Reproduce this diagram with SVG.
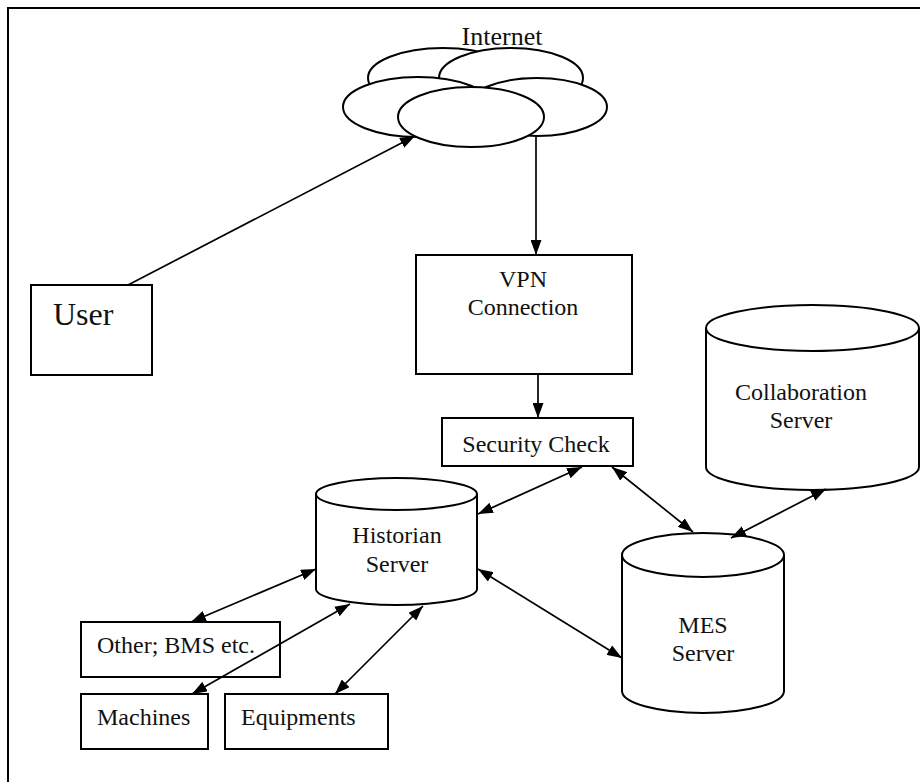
<svg xmlns="http://www.w3.org/2000/svg" width="920" height="782" viewBox="0 0 920 782">
  <style>
    .shape { fill: #fff; stroke: #000; stroke-width: 2; }
    .edge { fill: none; stroke: #000; stroke-width: 1.7; }
    text { font-family: "Liberation Serif", "Times New Roman", serif; fill: #111; font-size: 24px; }
    .c { text-anchor: middle; }
  </style>
  <defs>
    <marker id="arrow" viewBox="0 0 15 11" refX="15" refY="5.5" markerWidth="15" markerHeight="11" markerUnits="userSpaceOnUse" orient="auto-start-reverse">
      <path d="M0,0 L15,5.5 L0,11 z" fill="#000"/>
    </marker>
  </defs>
  <rect x="0" y="0" width="920" height="782" fill="#fff"/>

  <!-- page frame (top and left edges visible) -->
  <rect x="8" y="8" width="940" height="820" fill="none" stroke="#000" stroke-width="2"/>

  <g id="internet">
    <ellipse class="shape" cx="443" cy="78" rx="75" ry="30"/>
    <ellipse class="shape" cx="511" cy="78" rx="72" ry="30"/>
    <ellipse class="shape" cx="418" cy="107" rx="75" ry="30"/>
    <ellipse class="shape" cx="537" cy="107" rx="70" ry="29"/>
    <ellipse class="shape" cx="471" cy="117" rx="73" ry="30"/>
    <text class="c" x="502" y="45" style="font-size:26px">Internet</text>
  </g>

  <g id="user">
    <rect class="shape" x="31" y="285" width="121" height="90"/>
    <text x="53" y="325" style="font-size:32px">User</text>
  </g>

  <g id="vpn">
    <rect class="shape" x="416" y="255" width="216" height="119"/>
    <text class="c" x="523" y="287">VPN</text>
    <text class="c" x="523" y="315">Connection</text>
  </g>

  <g id="security">
    <rect class="shape" x="442" y="418" width="191" height="48"/>
    <text class="c" x="536" y="452">Security Check</text>
  </g>

  <g id="historian">
    <path class="shape" d="M316,494 L316,589 A80.5,16 0 0 0 477,589 L477,494"/>
    <ellipse class="shape" cx="396.5" cy="494" rx="80.5" ry="16"/>
    <text class="c" x="397" y="543">Historian</text>
    <text class="c" x="397" y="572">Server</text>
  </g>

  <g id="collaboration">
    <path class="shape" d="M706,328 L706,467 A106.5,23 0 0 0 919,467 L919,328"/>
    <ellipse class="shape" cx="812.5" cy="328" rx="106.5" ry="23"/>
    <text class="c" x="801" y="400">Collaboration</text>
    <text class="c" x="801" y="428">Server</text>
  </g>

  <g id="mes">
    <path class="shape" d="M622,555 L622,691 A81,22 0 0 0 784,691 L784,555"/>
    <ellipse class="shape" cx="703" cy="555" rx="81" ry="22"/>
    <text class="c" x="703" y="633">MES</text>
    <text class="c" x="703" y="661">Server</text>
  </g>

  <g id="other">
    <rect class="shape" x="81" y="622" width="199" height="55"/>
    <text x="97" y="653">Other; BMS etc.</text>
  </g>

  <g id="machines">
    <rect class="shape" x="81" y="694" width="127" height="55"/>
    <text x="97" y="725">Machines</text>
  </g>

  <g id="equipments">
    <rect class="shape" x="225" y="694" width="163" height="55"/>
    <text x="241" y="725">Equipments</text>
  </g>

  <g id="connectors">
    <line class="edge" x1="128" y1="285" x2="415" y2="136" marker-end="url(#arrow)"/>
    <line class="edge" x1="536" y1="137" x2="536" y2="255" marker-end="url(#arrow)"/>
    <line class="edge" x1="538" y1="374" x2="538" y2="418" marker-end="url(#arrow)"/>
    <line class="edge" x1="478" y1="514" x2="582" y2="467" marker-start="url(#arrow)" marker-end="url(#arrow)"/>
    <line class="edge" x1="612" y1="467" x2="693" y2="532" marker-start="url(#arrow)" marker-end="url(#arrow)"/>
    <line class="edge" x1="826" y1="489" x2="731" y2="538" marker-start="url(#arrow)" marker-end="url(#arrow)"/>
    <line class="edge" x1="478" y1="569" x2="622" y2="658" marker-start="url(#arrow)" marker-end="url(#arrow)"/>
    <line class="edge" x1="316" y1="569" x2="191" y2="622" marker-start="url(#arrow)" marker-end="url(#arrow)"/>
    <line class="edge" x1="350" y1="604" x2="192" y2="694" marker-start="url(#arrow)" marker-end="url(#arrow)"/>
    <line class="edge" x1="423" y1="606" x2="335" y2="694" marker-start="url(#arrow)" marker-end="url(#arrow)"/>
  </g>
</svg>
